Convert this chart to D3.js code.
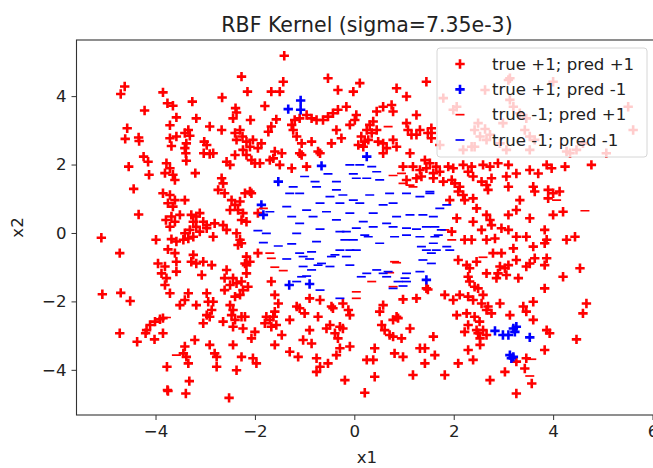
<!DOCTYPE html>
<html>
<head>
<meta charset="utf-8">
<script src="https://cdn.jsdelivr.net/npm/d3@7.9.0/dist/d3.min.js"></script>
<style>
  html, body { margin: 0; padding: 0; background: #fff; }
  svg { display: block; font-family: "DejaVu Sans", sans-serif; }
</style>
</head>
<body>
<svg id="chart" width="653" height="468"></svg>
<script>
// data (x1, x2)
const seriesLabels = ["true +1; pred +1", "true +1; pred -1", "true -1; pred +1", "true -1; pred -1"];
const xTicks = [-4, -2, 0, 2, 4, 6];
const yTicks = [-4, -2, 0, 2, 4];

// true +1, pred +1
const posPos = [
  [-4.62,4.28],[-4.70,4.06],[-3.85,4.11],[-3.76,3.79],[-3.65,3.72],[-4.22,3.58],[-3.58,3.38],[-4.57,3.06],[-4.61,2.75],[-4.34,2.79],
  [-4.33,2.69],[-3.71,3.15],[-3.71,2.77],[-3.68,2.54],[-3.58,2.82],[-4.24,2.23],[-4.15,2.08],[-4.13,1.70],[-4.54,1.94],[-4.44,1.29],
  [-4.34,0.54],[-5.09,-0.14],[-4.72,-0.59],[-3.99,-0.20],[-5.07,-1.79],[-4.70,-1.75],[-4.51,-1.99],[-4.72,-2.93],[-4.37,-3.18],[-4.18,-2.84],
  [-4.11,-2.69],[-4.01,-2.59],[-3.91,-2.52],[-3.85,-2.49],[-4.20,-2.93],[-4.02,-3.11],[-3.85,-2.93],[-3.77,-3.91],[-3.76,-4.59],
  [-3.78,2.04],[-3.71,1.89],[-3.81,1.75],[-3.65,1.70],[-3.61,1.55],[-3.85,1.16],[-3.71,1.11],[-3.61,0.96],[-3.75,0.87],[-3.65,0.77],
  [-3.79,0.38],[-3.68,0.48],[-3.61,0.33],[-3.71,0.18],[-3.68,-0.18],[-3.58,-0.25],[-3.75,-0.48],[-3.61,-0.59],
  [-3.95,-0.89],[-3.81,-0.98],[-3.88,-1.18],[-3.78,-1.32],[-3.81,-1.52],[-3.71,-1.76],[-3.58,-0.84],[-3.58,-1.13],
  [-3.41,-0.01],[-3.31,0.09],[-3.24,-0.11],[-3.18,0.18],[-3.11,0.04],[-2.97,0.14],[-2.84,-0.11],[-3.34,-0.16],[-3.44,-0.20],
  [-2.81,0.28],[-2.64,0.23],[-2.57,0.09],[-2.37,-0.01],[-2.30,-0.20],[-2.34,-0.35],[-2.27,-0.30],
  [-3.24,-0.64],[-3.28,-0.84],[-3.18,-0.89],[-3.04,-0.84],[-2.87,-0.94],[-3.07,-1.23],
  [-2.57,-1.08],[-2.61,-1.32],[-2.44,-1.32],[-2.50,-1.52],[-2.61,-1.67],[-2.37,-1.47],[-2.27,-1.42],[-2.17,-1.18],[-2.10,-0.84],[-2.17,-0.94],
  [-2.24,-1.67],[-2.30,-1.81],[-2.40,-1.86],
  [-3.34,-1.76],[-3.41,-1.96],[-3.51,-2.11],[-3.18,-2.11],[-2.97,-1.76],[-2.94,-2.01],[-2.84,-2.01],[-2.87,-2.25],[-2.97,-2.40],[-3.04,-2.64],[-2.91,-2.45],
  [-2.50,-2.11],[-2.44,-2.25],[-2.47,-2.40],[-2.40,-2.54],[-2.27,-2.45],[-2.24,-2.79],[-2.64,-2.59],[-2.44,-2.74],
  [-3.21,-3.13],[-3.41,-3.32],[-3.44,-3.52],[-3.38,-3.62],[-3.34,-3.81],[-2.91,-3.27],[-2.81,-3.52],[-2.77,-3.62],[-2.77,-3.91],
  [-2.44,-3.27],[-2.27,-3.62],[-2.37,-4.01],[-2.04,-3.66],[-1.97,-3.81],[-2.07,-3.08],[-2.00,-2.89],
  [-3.32,-4.33],[-3.75,-4.62],[-3.39,-4.69],[-2.52,-4.82],
  [-3.26,3.84],[-3.18,3.35],[-3.34,3.01],[-3.41,2.92],[-3.31,2.84],[-3.38,2.62],[-3.41,2.48],[-3.39,2.33],[-3.38,2.11],[-3.20,1.75],
  [-3.02,2.67],[-2.97,2.57],[-3.03,2.33],[-2.91,2.31],[-2.84,2.33],[-2.91,3.11],[-2.66,3.96],[-2.67,3.01],[-2.39,3.65],[-2.37,3.52],
  [-2.44,3.35],[-2.27,4.57],[-2.15,4.13],[-2.09,3.30],[-2.40,2.92],[-2.30,3.01],[-2.25,2.82],[-2.37,2.72],[-2.17,2.67],[-2.57,2.08],
  [-2.50,1.99],[-2.40,2.28],[-2.24,2.43],[-2.17,2.28],[-2.07,2.13],[-2.00,2.04],[-2.10,2.52],[-2.67,1.60],[-2.64,1.45],[-2.74,1.26],
  [-2.61,1.16],[-2.47,0.96],[-2.40,0.82],[-2.30,0.92],[-2.34,0.67],[-2.24,0.58],[-2.50,0.67],[-2.20,1.16],[-2.07,1.16],[-2.27,0.38],
  [-2.17,0.33],[-3.18,0.48],[-3.11,0.58],[-3.28,0.53],[-3.04,0.33],[-3.24,0.33],[-2.97,0.23],[-3.41,0.96],[-3.51,0.53],
  [-1.41,5.18],[-1.43,4.42],[-1.50,4.13],[-1.67,4.13],[-1.80,3.71],[-1.57,3.32],[-1.67,3.11],[-1.73,2.96],[-0.53,4.52],[-0.33,4.18],
  [-0.02,4.13],[0.11,4.38],[0.85,4.23],[1.05,3.99],[1.45,4.42],
  [-1.26,3.16],[-1.20,3.30],[-1.10,3.35],[-0.96,3.45],[-0.86,3.35],[-0.76,3.30],[-0.63,3.30],[-0.53,3.40],[-0.43,3.50],[-0.33,3.60],
  [-0.16,3.69],[-1.23,3.01],[-1.16,2.82],[-1.06,2.62],[-1.10,2.33],[0.04,3.45],[0.01,3.30],[-0.09,3.16],[-0.36,3.01],[-0.26,2.77],[-0.46,2.62],
  [-0.86,2.67],[-0.73,2.38],[-0.69,2.33],[-1.06,2.28],[-0.96,1.94],[-1.26,1.89],[-1.46,2.33],[-1.63,2.18],[-1.60,2.38],[-1.50,1.99],
  [-1.87,2.62],[-1.94,2.48],
  [0.45,3.55],[0.38,3.26],[0.31,3.16],[0.25,3.01],[0.14,2.82],[0.08,2.57],[0.18,2.52],[0.21,2.67],[0.28,2.72],[0.35,2.92],[0.45,3.01],
  [0.58,3.69],[0.75,3.74],[0.78,3.55],[0.58,2.62],[0.78,2.72],[0.85,2.52],[0.65,2.48],[0.48,2.67],[0.58,2.33],
  [1.05,3.21],[1.15,2.87],[1.25,2.87],[1.08,3.01],[1.25,3.45],[1.48,2.92],[1.55,3.06],[1.55,2.77],[1.12,2.33],
  [0.98,1.94],[1.18,1.94],[1.32,1.84],[1.45,1.89],[1.59,1.75],[1.25,1.60],[1.05,1.55],[1.35,1.65],
  [-1.90,2.04],[-2.10,1.21],[-1.94,0.58],[-1.94,-0.59],[-1.67,-1.42],[-1.60,-1.81],[-1.53,-2.06],[-2.04,2.72],[-1.70,2.13],
  [-2.17,-0.69],[-2.20,-0.89],[-2.14,-1.57],[-2.20,-2.45],
  [0.98,-1.94],[1.25,-1.91],[1.48,-1.65],[0.58,-2.11],[0.51,-2.30],[0.85,-2.45],[0.78,-2.54],[0.88,-2.49],[0.55,-2.69],[0.61,-2.84],
  [0.71,-2.98],[0.78,-3.03],[0.95,-3.08],[1.12,-2.79],[1.59,-3.03],
  [0.41,-3.37],[0.25,-3.71],[0.38,-3.71],[0.81,-3.52],[0.98,-3.62],[1.32,-3.37],[1.42,-3.37],[1.62,-3.57],[1.42,-3.81],[1.18,-4.15],
  [0.41,-4.20],[0.21,-4.67],
  [-1.63,-2.45],[-1.70,-2.54],[-1.80,-2.64],[-1.67,-2.74],[-1.60,-2.30],[-1.77,-2.45],[-1.57,-2.69],[-1.46,-2.98],[-1.30,-2.54],[-1.60,-3.27],
  [-1.30,-3.47],[-1.13,-3.62],[-1.10,-2.20],[-1.00,-2.35],[-0.90,-1.91],[-0.69,-1.96],[-0.73,-2.45],[-0.43,-2.20],[-0.49,-2.69],[-0.29,-2.74],
  [-0.39,-2.93],[-0.33,-3.08],[-0.23,-2.79],[-0.09,-3.32],[-0.29,-3.37],[-0.36,-3.57],[-0.56,-2.79],[-0.90,-2.84],[-1.03,-3.13],[-0.86,-3.23],
  [-0.76,-3.66],[-0.69,-3.91],[-0.53,-3.81],[-0.76,-4.06],[-0.19,-4.30],[-0.12,-2.25],[-0.09,-2.40],[-1.16,-2.15],[-0.46,-2.15],[-0.23,-2.06],
  [1.42,2.13],[1.52,2.04],[1.65,1.94],[1.72,1.79],[1.89,1.94],[1.99,1.89],[2.19,1.99],[2.36,1.94],[2.29,1.79],[2.39,1.65],
  [2.59,1.99],[2.73,1.94],[2.89,2.04],[3.10,1.99],[3.26,1.74],[3.53,1.84],[3.70,1.74],[3.87,1.99],[3.97,1.89],[4.24,1.94],[4.77,1.99],
  [1.59,1.60],[1.79,1.50],[1.96,1.55],[2.02,1.45],[2.12,1.35],[2.09,1.21],[2.19,1.11],[2.22,0.96],[2.39,1.01],[2.56,1.50],
  [2.66,1.40],[2.76,1.60],[2.69,1.26],[3.06,1.65],[3.10,1.35],[3.33,0.96],[3.60,1.35],[3.63,1.21],[3.90,1.26],[4.00,1.16],[4.13,1.21],[3.90,1.01],
  [1.92,0.96],[2.46,0.72],[2.06,0.43],[2.39,0.33],[2.66,0.53],[2.73,0.38],[2.76,0.23],[3.10,0.53],[3.26,0.67],[3.53,0.43],[4.00,0.53],[4.20,0.62],
  [1.96,0.04],[2.22,-0.20],[2.36,-0.20],[2.56,0.09],[2.66,-0.20],[2.83,-0.16],[2.96,0.14],[3.10,0.09],[3.26,-0.11],[3.20,-0.45],
  [3.46,-0.11],[3.60,-0.40],[3.83,0.09],[3.87,-0.20],[3.83,-0.30],[4.27,-0.20],[4.44,-0.11],
  [2.09,-0.79],[2.26,-0.94],[2.32,-1.03],[2.46,-0.84],[2.66,-1.18],[2.79,-0.59],[2.96,-0.59],[2.93,-0.98],[3.03,-1.03],[3.10,-0.94],
  [2.89,-1.18],[3.06,-1.23],[2.86,-1.32],[3.26,-0.79],[3.30,-1.32],[3.46,-0.98],[3.53,-0.89],[3.63,-0.74],[3.87,-0.74],[3.83,-0.94],
  [4.20,-1.28],[4.54,-1.03],
  [1.45,-1.62],[1.82,-1.81],[1.99,-1.96],[2.12,-1.81],[2.29,-1.86],[2.39,-1.96],[2.59,-1.81],[2.29,-1.28],[2.42,-1.57],[2.32,-1.42],
  [2.49,-1.62],[2.69,-2.15],[2.56,-2.06],[2.93,-2.06],[3.13,-2.40],[3.40,-2.15],[3.60,-2.01],[3.83,-1.62],[4.67,-2.06],[4.60,-2.35],
  [2.06,-2.40],[2.26,-2.35],[2.42,-2.45],[2.52,-2.59],[2.66,-2.25],[2.76,-2.35],[2.29,-2.69],[2.49,-2.93],[2.59,-2.84],[3.87,-2.84],
  [3.93,-2.93],[3.60,-2.54],
  [2.53,-3.27],[2.29,-3.42],[2.39,-3.71],[2.09,-3.81],[1.82,-4.15],[2.73,-4.30],[3.03,-4.06],[3.26,-3.76],[3.46,-3.66],[3.43,-3.96],
  [3.83,-3.42],[3.57,-4.40],[3.26,-4.69],[4.47,-3.11],[3.46,-2.30],[2.22,-2.89],[2.46,-2.84],[2.66,-2.98],[2.53,-3.08],
  [1.79,3.94],[1.99,3.60],[2.06,3.69],[2.42,3.01],[2.53,2.82],[2.42,2.52],[2.66,2.72],[2.73,2.87],[2.93,2.62],[3.06,2.43],
  [3.13,3.89],[3.20,3.69],[3.33,3.50],[3.46,3.35],[2.99,3.21],[3.10,4.47],[2.63,4.18],[3.13,4.52],[3.43,3.01],[3.53,2.82],
  [4.00,4.42],[3.63,2.72],[4.27,2.38],[4.47,2.43],[4.60,2.62],[5.07,2.33],[5.51,3.69],[5.61,3.01],[2.63,3.04],[2.49,3.21],
  [1.72,2.57],[2.19,2.43],[2.36,2.52],[3.53,2.43],[4.34,2.33],[1.32,3.01],[1.55,2.92]
];

// true +1, pred -1
const posNeg = [
  [-1.08,3.87],[-1.08,3.60],[-1.33,3.62],[0.25,2.23],[-0.66,1.96],[-1.53,1.50],[-1.87,0.82],[-1.83,0.53],[-1.31,-1.52],[-0.90,-1.49],
  [1.45,-1.37],[2.83,-2.86],[2.99,-2.98],[3.10,-2.98],[3.20,-2.79],[3.26,-2.74],[3.23,-2.89],[3.53,-3.05],[3.13,-3.57],[3.20,-3.62],[3.16,-3.66]
];

// true -1, pred +1
const negPos = [
  [-3.78,-2.47],[-3.58,-3.57],[0.68,3.11],[0.78,1.68],[0.98,1.45],[1.18,1.35],[0.95,1.74],[1.12,1.40],[-1.83,0.72],[-1.70,-0.59],
  [-1.67,-0.74],[-1.60,-1.00],[-1.43,-1.10],[0.81,-0.84],[0.71,-1.16],[0.35,-1.42],[0.78,-1.57],[0.04,-1.72],[0.04,-1.91],[1.82,0.09],
  [1.96,-0.20],[0.85,-0.87],[4.07,0.96],[4.64,0.65],[2.59,-0.71],[3.57,-3.69],[3.53,-4.18]
];

// true -1, pred -1
const negNeg = [
  [-0.09,1.99],[0.11,1.99],[0.35,1.94],[-0.53,1.73],[-0.02,1.73],[0.45,1.79],[-1.00,1.65],[-0.79,1.50],[-0.36,1.50],[0.04,1.60],
  [0.25,1.60],[0.51,1.55],[-1.23,1.35],[-0.76,1.35],[-0.36,1.26],[-1.30,1.16],[-1.10,1.16],[-0.23,1.11],[-0.49,1.06],[-0.02,0.96],
  [0.31,1.11],[0.71,1.16],[1.05,1.16],[1.32,1.06],[1.52,1.16],[-0.69,0.87],[-0.29,0.87],[0.11,0.87],[0.58,0.82],[0.78,0.87],
  [-1.36,0.77],[-1.70,0.62],[-0.96,0.67],[-0.56,0.62],[-0.09,0.58],[0.38,0.58],[0.85,0.48],[1.12,0.53],[1.38,0.53],[1.59,0.48],
  [-1.26,0.48],[-0.83,0.48],[-0.36,0.38],[0.18,0.33],[0.65,0.28],[-1.10,0.28],
  [-1.94,0.07],[-1.77,-0.01],[-1.16,-0.01],[-0.69,0.11],[0.04,0.14],[-0.29,0.04],[-0.16,0.04],[-0.19,-0.20],[-0.02,-0.20],[-1.83,-0.28],
  [-1.53,-0.38],[-1.26,-0.32],[-0.76,-0.25],[-1.10,-0.59],[-0.86,-0.55],[-0.29,-0.50],[-0.09,-0.50],[-1.03,-0.69],[-0.90,-0.76],[-0.46,-0.69],
  [-0.39,-0.64],[-0.16,-0.69],[-1.36,-0.76],[-0.66,-0.89],[-0.73,-0.94],[-0.49,-0.98],[-0.09,-0.94],[-1.03,-0.98],[-0.86,-1.08],[-1.06,-1.28],
  [-0.96,-1.26],[-1.16,-1.42],[-0.69,-1.67],[-0.29,-1.91],
  [0.38,0.18],[0.78,0.18],[1.05,0.14],[1.45,0.18],[1.62,0.18],[0.21,-0.06],[0.51,-0.30],[0.81,-0.11],[1.05,-0.06],[1.32,-0.11],
  [1.59,-0.30],[1.45,-0.50],[1.55,-0.59],[1.38,-0.79],[1.55,-0.89],[0.45,-1.08],[0.25,-1.18],[0.58,-1.18],[1.05,-1.18],[1.32,-1.13],
  [0.88,-1.42],[1.05,-1.42],[1.72,0.72],[1.86,0.82],[1.86,-0.40],[1.92,-0.50],[1.52,1.21],[1.75,0.09],
  [1.25,0.11],[0.28,-0.11],[1.62,-0.11],[1.69,-0.06],[0.04,-0.50],[1.35,-0.40],[1.65,-0.50],[0.68,-1.13],[0.14,-1.28],[1.02,-1.32],
  [0.65,-1.28],[0.98,-1.55],[0.78,-1.62]
];

const svg = d3.select("#chart");
const plot = { left: 76.5, right: 657.5, top: 40, bottom: 415 };

const x = d3.scaleLinear().domain([-5.59, 6.1]).range([plot.left, plot.right]);
const y = d3.scaleLinear().domain([-5.32, 5.64]).range([plot.bottom, plot.top]);

const fmt = d => (d < 0 ? "\u2212" + Math.abs(d) : String(d));
const tickFont = "16.6px";

svg.append("defs").append("clipPath").attr("id", "clip")
  .append("rect")
  .attr("x", plot.left).attr("y", plot.top)
  .attr("width", plot.right - plot.left).attr("height", plot.bottom - plot.top);

// markers
const plusPath = "M-4.7,0H4.7M0,-4.7V4.7";
const dashPath = "M-4.5,0H4.5";

const series = [
  { data: posPos, color: "#ff0000", path: plusPath, sw: 2.6 },
  { data: posNeg, color: "#0000ff", path: plusPath, sw: 2.6 },
  { data: negPos, color: "#ff0000", path: dashPath, sw: 1.7 },
  { data: negNeg, color: "#0000ff", path: dashPath, sw: 1.7 }
];

const pts = svg.append("g").attr("clip-path", "url(#clip)");
series.forEach(s => {
  pts.append("g").selectAll("path")
    .data(s.data)
    .join("path")
    .attr("d", s.path)
    .attr("transform", d => `translate(${x(d[0])},${y(d[1])})`)
    .attr("fill", "none")
    .attr("stroke", s.color)
    .attr("stroke-width", s.sw);
});

// axes
const xAxis = svg.append("g")
  .attr("transform", `translate(0,${plot.bottom})`)
  .call(d3.axisBottom(x).tickValues(xTicks).tickFormat(fmt).tickSize(5).tickPadding(5));
const yAxis = svg.append("g")
  .attr("transform", `translate(${plot.left},0)`)
  .call(d3.axisLeft(y).tickValues(yTicks).tickFormat(fmt).tickSize(5).tickPadding(5));

[xAxis, yAxis].forEach(g => {
  g.select(".domain").remove();
  g.selectAll(".tick line").attr("stroke", "#333").attr("stroke-width", 1);
  g.selectAll(".tick text")
    .attr("fill", "#222")
    .style("font-family", "DejaVu Sans, sans-serif")
    .style("font-size", tickFont);
});

// spines
svg.append("rect")
  .attr("x", plot.left).attr("y", plot.top)
  .attr("width", plot.right - plot.left).attr("height", plot.bottom - plot.top)
  .attr("fill", "none").attr("stroke", "#333").attr("stroke-width", 1.1);

// title and labels
svg.append("text")
  .attr("x", (plot.left + plot.right) / 2).attr("y", 32)
  .attr("text-anchor", "middle")
  .style("font-size", "20.5px").attr("fill", "#222")
  .text("RBF Kernel (sigma=7.35e-3)");

svg.append("text")
  .attr("x", (plot.left + plot.right) / 2).attr("y", 463)
  .attr("text-anchor", "middle")
  .style("font-size", tickFont).attr("fill", "#222")
  .text("x1");

svg.append("text")
  .attr("transform", `translate(23,${(plot.top + plot.bottom) / 2}) rotate(-90)`)
  .attr("text-anchor", "middle")
  .style("font-size", tickFont).attr("fill", "#222")
  .text("x2");

// legend
const leg = svg.append("g").attr("transform", "translate(437,48)");
leg.append("rect")
  .attr("width", 210).attr("height", 109).attr("rx", 3)
  .attr("fill", "#fff").attr("fill-opacity", 0.8)
  .attr("stroke", "#d6d6d6").attr("stroke-width", 1);

const legRow = d3.scaleLinear().domain([0, 3]).range([16, 92]);
leg.selectAll("g.item")
  .data(series.map((s, i) => ({ ...s, label: seriesLabels[i], i })))
  .join("g")
  .attr("class", "item")
  .attr("transform", d => `translate(0,${legRow(d.i)})`)
  .each(function (d) {
    const g = d3.select(this);
    g.append("path")
      .attr("d", d.path)
      .attr("transform", "translate(23,0)")
      .attr("fill", "none").attr("stroke", d.color).attr("stroke-width", d.sw);
    g.append("text")
      .attr("x", 55).attr("dy", "0.35em")
      .style("font-size", tickFont).attr("fill", "#222")
      .text(d.label);
  });
</script>
</body>
</html>
